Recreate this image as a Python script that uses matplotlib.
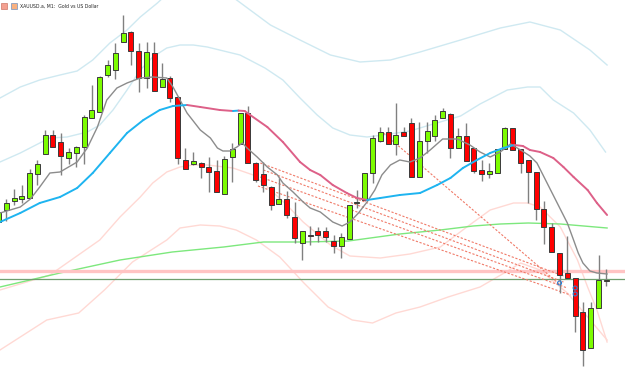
import numpy as np
import matplotlib
matplotlib.use("Agg")
import matplotlib.pyplot as plt
from matplotlib.patches import Rectangle

# candle data (price axis runs top -> bottom)
opens  = [222, 210, 201, 198.5, 198, 174, 154, 135, 142, 158, 153, 147, 118, 112, 75, 70, 42, 32, 51, 78,
          53, 87, 78, 97, 160, 164, 163, 167, 171, 194, 157, 144, 113, 163, 174, 187, 204, 199, 217, 243,
          236, 231, 231, 241, 246, 239, 203, 200, 173, 141, 132, 144, 132, 123, 177, 141, 136, 118, 114, 148,
          136, 148, 170, 174, 173, 149, 128, 149, 160, 172, 209, 227, 253, 273, 278, 312, 348, 308, 281]
closes = [212, 203, 198, 196, 173, 164, 135, 147, 156, 152, 147, 117, 110, 77, 65, 53, 33, 51, 78, 52,
          91, 79, 98, 158, 169, 161, 167, 172, 192, 159, 149, 113, 163, 180, 185, 205, 199, 215, 238, 231,
          236, 235, 237, 246, 237, 205, 201.5, 173, 138, 132, 144, 135, 136, 177, 141, 131, 120, 111, 148, 136,
          161, 171, 174, 171, 149, 128, 150, 163, 172, 209, 227, 252, 275, 278, 316, 350, 308, 280, 280.5]
highs  = [210, 199, 189, 185, 169, 160, 130, 130, 133, 148, 146, 115, 85, 76, 60, 43, 15, 31, 43, 42,
          42, 63, 76, 96, 148, 152, 162, 157, 160, 156, 143, 113, 106, 162, 162, 186, 178, 191, 202, 231,
          226, 227, 227, 235, 233, 205, 190, 173, 135, 127, 127, 103, 127, 118, 122, 122, 115, 108, 113, 128,
          123, 148, 160, 163, 149, 127, 128, 149, 160, 172, 201, 223, 253, 236, 278, 302, 302, 255, 269]
lows   = [224, 221, 205, 203, 198, 185, 154, 147, 175, 164, 167, 164, 118, 112, 77, 79, 42, 65, 92, 88,
          91, 87, 102, 164, 169, 165, 178, 192, 192, 194, 182, 144, 163, 182, 192, 210, 204, 218, 243, 260,
          245, 242, 242, 253, 258, 239, 208, 201, 183, 142, 144, 155, 136, 177, 177, 153, 141, 118, 158, 148,
          161, 173, 181, 178, 173, 149, 150, 173, 203, 220, 244, 252, 293, 278, 332, 366, 348, 308, 286]

# fast MA (grey)
fast_x = [0.2, 2.8, 4.1, 5.3, 6.6, 7.9, 10.1, 11.4, 12.7, 13.9, 15.2, 16.5, 18.2, 19.8, 21.6, 22.4, 24.2,
          25.9, 27.2, 28.1, 28.8, 29.7, 30.6, 31.3, 31.9, 33.2, 34.5, 35.8, 36.5, 37.8, 39.1, 40.0, 41.3,
          42.9, 44.1, 45.1, 46.2, 47.3, 48.3, 49.2, 50.3, 51.5, 52.8, 54.1, 55.4, 57.0, 58.9, 60.5, 61.8,
          63.1, 64.4, 65.7, 67.0, 68.2, 69.1, 70.4, 71.7, 73.0, 73.8, 74.4, 75.0, 75.9, 76.8, 78.1]
fast_y = [213, 207, 199, 187, 173, 172, 162, 148, 127, 100, 88, 83, 78, 77, 78, 87, 113,
          130, 138, 148, 151, 151, 147, 143, 148, 157, 167, 175, 183, 192, 202, 208, 212,
          222, 226, 222, 213, 202, 190, 175, 165, 160, 162, 158, 150, 139, 139, 145, 152,
          157, 152, 144, 150, 156, 163, 183, 203, 223, 240, 253, 263, 271, 273, 274]

# slow MA (blue rising / pink falling)
slow_x = [0.2, 2.8, 5.3, 7.9, 10.1, 12.1, 14.3, 16.5, 18.6, 20.7, 22.4, 24.2, 25.9, 28.4, 30.1, 30.8, 31.6,
          32.3, 34.5, 36.5, 38.7, 40.0, 41.3, 42.9, 44.7, 46.0, 47.3, 49.0, 51.5, 54.1, 56.3, 58.0, 59.6,
          61.4, 63.1, 64.8, 66.2, 67.3, 68.2, 69.5, 71.2, 72.5, 73.8, 75.6, 76.8, 78.1]
slow_y = [222, 213, 203, 197, 188, 173, 153, 133, 120, 110, 106, 105, 107, 110, 111, 110.6, 111,
          115, 127, 142, 162, 170, 175, 185, 193, 198, 200, 198, 195, 193, 185, 178, 168,
          160, 153, 148, 145, 146, 150, 152, 158, 167, 177, 190, 203, 215]

# bands
up1_x = [0.2, 2.8, 5.3, 6.6, 8.8, 11.4, 13.0, 14.7, 16.5, 18.2, 19.8, 21.6, 23.3, 25.0, 26.8, 31.0, 34.2,
         36.5, 38.7, 40.9, 42.9, 45.1, 47.3, 49.4, 52.8, 55.8, 59.3, 61.8, 65.3, 67.9, 69.5, 71.2, 73.8,
         75.9, 77.9]
up1_y = [162, 153, 143, 138, 137, 132, 125, 110, 90, 70, 57, 48, 45, 45, 47, 55, 68,
         80, 98, 115, 128, 135, 137, 135, 131, 124, 116, 104, 90, 87, 87, 100, 113,
         130, 152]
up2_x = [0.2, 2.8, 5.3, 7.9, 10.1, 12.1, 14.3, 16.5, 18.2, 20.4, 21.5, 29.7, 32.3, 34.9, 38.7, 42.6,
         46.4, 50.3, 54.1, 59.3, 64.4, 68.2, 72.1, 75.9, 78.1]
up2_y = [98, 87, 80, 75, 71, 60, 43, 30, 17, 3, -5, -5, 10, 25, 40, 55, 62, 60, 52, 40, 28, 22, 30, 50, 65]
lo1_x = [0.2, 6.6, 13.0, 15.6, 18.2, 19.8, 21.6, 23.3, 25.0, 26.8, 30.1, 32.7, 34.5, 37.0, 39.1, 42.6,
         45.1, 49.0, 52.8, 56.7, 60.1, 63.1, 66.1, 67.9, 69.5, 72.1, 74.3, 75.6, 76.8, 78.1]
lo1_y = [290, 275, 240, 217, 197, 183, 172, 167, 165, 165, 168, 175, 187, 205, 222, 245,
         256, 258, 254, 247, 227, 210, 203, 203, 207, 227, 260, 287, 310, 342]
lo2_x = [0.2, 6.2, 10.3, 13.6, 17.2, 21.6, 23.3, 25.9, 28.4, 30.5, 33.1, 36.1, 39.2, 42.3, 45.4, 48.0,
         51.0, 54.1, 57.7, 61.8, 64.9, 67.0, 69.5, 73.0, 75.6, 78.1]
lo2_y = [350, 320, 313, 290, 262, 240, 228, 225, 226, 230, 240, 257, 283, 307, 320, 323,
         313, 307, 297, 287, 273, 263, 270, 293, 317, 340]

# long MA (green)
long_x = [0.2, 7.9, 15.6, 22.3, 28.9, 34.0, 39.2, 44.9, 51.5, 56.7, 60.9, 64.4, 68.0, 72.1, 78.1]
long_y = [287, 273, 260, 252, 247, 242, 242, 241, 234, 230, 226, 224, 223, 224, 228]

# price lines
ask_level = 271
bid_level = 279

# closed trade lines (open bar/price -> close bar/price)
trade_x0 = [33.6, 34.0, 33.6, 33.3, 49.4]
trade_y0 = [163, 170, 177, 186, 133]
trade_x1 = [72.5, 72.5, 73.0, 73.4, 72.1]
trade_y1 = [276, 282, 288, 295, 285]

# trade markers
mark_x = [72.0, 74.0, 74.0]
mark_y = [283, 288, 294]

fig = plt.figure(figsize=(6.25, 3.71), dpi=100)
ax = fig.add_axes([0, 0, 1, 1])
ax.set_xlim(0.2, 80.4)
ax.set_ylim(371, 0)
ax.axis('off')

# bands and MAs behind candles
for bx, by in [(up1_x, up1_y), (up2_x, up2_y)]:
    ax.plot(bx, by, color='#cfe9f1', lw=1, zorder=1)
for bx, by in [(lo1_x, lo1_y), (lo2_x, lo2_y)]:
    ax.plot(bx, by, color='#ffd9d4', lw=1, zorder=1)
ax.plot(long_x, long_y, color='#7de87d', lw=1, zorder=1)

ax.axhline(ask_level, color='#ffc4c4', lw=2.4, zorder=1)
ax.axhline(bid_level, color='#6f9f6f', lw=0.9, zorder=1)

for a, b, c, d in zip(trade_x0, trade_y0, trade_x1, trade_y1):
    ax.plot([a, c], [b, d], color='#f07a68', lw=0.8, ls=(0, (2, 1.5)), zorder=2)

idx = np.arange(len(opens))
o = np.array(opens, float)
c = np.array(closes, float)
bull = c < o
ax.vlines(idx, highs, lows, color='#808080', lw=1, zorder=3)
bottom = np.maximum(o, c)
height = np.minimum(o, c) - bottom
height = np.where(np.abs(height) < 1, -1, height)
cols = np.where(bull, '#7cfc00', '#ff0000')
ax.bar(idx, height, bottom=bottom, width=0.64, color=cols, edgecolor='#3a3a3a', lw=0.7, zorder=4)

ax.plot(fast_x, fast_y, color='#8c8c8c', lw=1, zorder=5)
for i in range(len(slow_x) - 1):
    col = '#1eb4f0' if slow_y[i + 1] < slow_y[i] else '#dd6088'
    ax.plot(slow_x[i:i + 2], slow_y[i:i + 2], color=col, lw=1.4, zorder=5,
            solid_capstyle='round')

ax.scatter(mark_x, mark_y, s=8, facecolor='none', edgecolor='#2a7fd4', lw=0.8, zorder=6)

# header
fig.patches.append(Rectangle((1 / 625, 1 - 9 / 371), 6 / 625, 6 / 371, transform=fig.transFigure,
                             facecolor='#f4a090', edgecolor='#c06050', lw=0.4))
fig.patches.append(Rectangle((11 / 625, 1 - 9 / 371), 6 / 625, 6 / 371, transform=fig.transFigure,
                             facecolor='#f8b080', edgecolor='#5080c0', lw=0.4))
fig.text(20 / 625, 1 - 6 / 371, 'XAUUSD.a, M1:  Gold vs US Dollar', fontsize=3.3,
         va='center', ha='left', color='#222222')

fig.savefig('out.png', dpi=100, facecolor='white')
